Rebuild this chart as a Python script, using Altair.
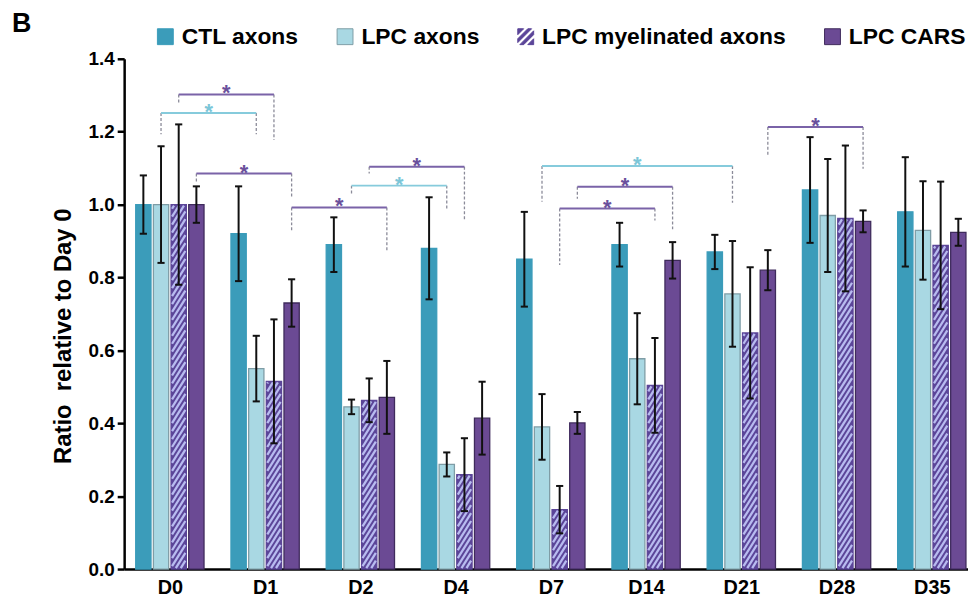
import altair as alt
import pandas as pd

# ---------------- data ----------------
days = ["D0", "D1", "D2", "D4", "D7", "D14", "D21", "D28", "D35"]
series = ["CTL axons", "LPC axons", "LPC myelinated axons", "LPC CARS"]

ctl_mean = [1.00, 0.92, 0.89, 0.88, 0.85, 0.89, 0.87, 1.04, 0.98]
ctl_err = [0.08, 0.13, 0.075, 0.14, 0.13, 0.06, 0.047, 0.145, 0.15]
lpc_mean = [1.00, 0.55, 0.445, 0.287, 0.39, 0.577, 0.755, 0.97, 0.929]
lpc_err = [0.16, 0.09, 0.02, 0.033, 0.09, 0.125, 0.145, 0.155, 0.135]
myel_mean = [1.00, 0.515, 0.463, 0.259, 0.163, 0.504, 0.648, 0.962, 0.888]
myel_err = [0.22, 0.17, 0.06, 0.10, 0.065, 0.13, 0.18, 0.20, 0.175]
cars_mean = [1.00, 0.73, 0.471, 0.414, 0.401, 0.847, 0.82, 0.954, 0.924]
cars_err = [0.05, 0.065, 0.10, 0.10, 0.03, 0.05, 0.055, 0.03, 0.037]

br_series = ["LPC myelinated axons", "LPC axons", "LPC CARS", "LPC CARS", "LPC axons",
             "LPC myelinated axons", "LPC axons", "LPC CARS", "LPC myelinated axons", "LPC CARS"]
br_from = ["D0", "D0", "D0", "D1", "D2", "D2", "D7", "D7", "D7", "D21"]
br_to = ["D1", "D1", "D1", "D2", "D4", "D4", "D21", "D14", "D14", "D28"]
br_level = [1.302, 1.251, 1.085, 0.992, 1.052, 1.104, 1.106, 1.049, 0.989, 1.213]
br_left_end = [1.278, 1.193, 1.060, 0.926, 1.030, 1.085, 1.008, 1.016, 0.834, 1.131]
br_right_end = [1.177, 1.193, 1.019, 0.872, 0.984, 0.959, 1.005, 0.932, 0.956, 1.098]
br_label = ["*"] * 10
panel_label = ["B"]

# ---------------- styles / layout ----------------
fill_colors = ["#3b9cba", "#a9d8e3", "#5b4598", "#6b4a94"]
stroke_colors = ["#3b9cba", "#7f9da6", "#5b4598", "#3f2b5c"]
stripe_color = "#b8bbf0"
br_colors = {"LPC axons": "#86cbdc", "LPC CARS": "#7a63a8", "LPC myelinated axons": "#7a63a8"}
star_colors = {"LPC axons": "#7cc6d8", "LPC CARS": "#6a509c", "LPC myelinated axons": "#6a509c"}
FONT = "Liberation Sans"

W, H = 850, 514
X_DOM = [-0.48, 8.38]
Y_DOM = [0.0, 1.4]
px_x = W / (X_DOM[1] - X_DOM[0])
px_y = H / (Y_DOM[1] - Y_DOM[0])
slot_px, bar_px, cap_px = 17.8, 15.4, 3.6
offsets = {s: (i - 1.5) * slot_px / px_x for i, s in enumerate(series)}
half = bar_px / 2 / px_x
cap = cap_px / px_x

means = dict(zip(series, [ctl_mean, lpc_mean, myel_mean, cars_mean]))
errs = dict(zip(series, [ctl_err, lpc_err, myel_err, cars_err]))

rows, caps = [], []
for s in series:
    for i, d in enumerate(days):
        xc = i + offsets[s]
        m, e = means[s][i], errs[s][i]
        rows.append(dict(series=s, day=d, xc=xc, x0=xc - half, x1=xc + half,
                         mean=m, lo=m - e, hi=m + e))
        caps.append(dict(xa=xc - cap, xb=xc + cap, y=m + e))
        caps.append(dict(xa=xc - cap, xb=xc + cap, y=m - e))
bars = pd.DataFrame(rows)
caps = pd.DataFrame(caps)

# diagonal hatching of the myelinated bars (decoration, clipped to each bar)
stripes = []
slope, period, ins = 1.6, 8.0, 1.0
for i, m in enumerate(myel_mean):
    left = i + offsets[series[2]] - half
    w, h = bar_px, m * px_y
    c = -slope * w + 2.0
    while c < h:
        xlo = max(ins, (ins - c) / slope)
        xhi = min(w - ins, (h - ins - c) / slope)
        if xhi - xlo > 0.3:
            stripes.append(dict(xa=left + xlo / px_x, xb=left + xhi / px_x,
                                ya=(slope * xlo + c) / px_y, yb=(slope * xhi + c) / px_y))
        c += period
stripes = pd.DataFrame(stripes)

brs, drops = [], []
for s, f, t, lv, le, re_, lab in zip(br_series, br_from, br_to, br_level, br_left_end, br_right_end, br_label):
    xa = days.index(f) + offsets[s]
    xb = days.index(t) + offsets[s]
    brs.append(dict(xa=xa, xb=xb, level=lv, mid=(xa + xb) / 2, col=br_colors[s],
                    scol=star_colors[s], label=lab))
    drops.append(dict(x=xa, ya=lv, yb=le))
    drops.append(dict(x=xb, ya=lv, yb=re_))
brs = pd.DataFrame(brs)
drops = pd.DataFrame(drops)


# legend swatch for the hatched series: square split into diagonal bands (stripes left open)
def clip(poly, f):
    out = []
    n = len(poly)
    for k in range(n):
        p, q = poly[k], poly[(k + 1) % n]
        fp, fq = f(p), f(q)
        if fp >= 0:
            out.append(p)
        if (fp >= 0) != (fq >= 0):
            tt = fp / (fp - fq)
            out.append((p[0] + tt * (q[0] - p[0]), p[1] + tt * (q[1] - p[1])))
    return out


square = [(-1, -1), (1, -1), (1, 1), (-1, 1)]
band_edges = [(-2.0, -1.26), (-0.74, -0.26), (0.26, 0.74), (1.26, 2.0)]
hatch_path = ""
for a, b in band_edges:
    poly = clip(clip(square, lambda p, a=a: p[0] + p[1] - a), lambda p, b=b: b - (p[0] + p[1]))
    if len(poly) >= 3:
        hatch_path += "M" + "L".join("%.3f,%.3f" % pt for pt in poly) + "Z"
shape_range = ["square", "square", hatch_path, "square"]

xscale = alt.Scale(domain=X_DOM, nice=False, zero=False)
yscale = alt.Scale(domain=Y_DOM, nice=False, zero=False)

label_expr = "[" + ",".join("'%s'" % d for d in days) + "][datum.value]"
xaxis = alt.Axis(values=list(range(len(days))), labelExpr=label_expr, ticks=False, grid=False,
                 domainColor="black", domainWidth=2.5, labelFont=FONT, labelFontSize=20,
                 labelFontWeight="bold", labelColor="black", labelPadding=9, title=None)
yaxis = alt.Axis(values=[0, 0.2, 0.4, 0.6, 0.8, 1.0, 1.2, 1.4], format=".1f", grid=False,
                 tickSize=7, tickWidth=2.5, tickColor="black", domainColor="black", domainWidth=2.5,
                 labelFont=FONT, labelFontSize=19, labelFontWeight="bold", labelColor="black",
                 labelPadding=3, title="Ratio\u00a0 relative to Day 0", titleFont=FONT,
                 titleFontSize=24, titleFontWeight="bold", titleColor="black", titleAngle=270,
                 titleX=-61, titleY=279, titleAlign="center", titleBaseline="middle")

legend = alt.Legend(orient="none", legendX=30, legendY=-34, direction="horizontal", columns=4,
                    title=None, symbolSize=256, symbolStrokeWidth=1.0, symbolOpacity=1,
                    labelFont=FONT, labelFontSize=23, labelFontWeight="bold", labelColor="black",
                    labelOffset=5, labelLimit=400, columnPadding=35, padding=0)

bar_layer = alt.Chart(bars).mark_bar(strokeWidth=1.3).encode(
    x=alt.X("x0:Q", scale=xscale, axis=xaxis),
    x2="x1:Q",
    y=alt.Y("mean:Q", scale=yscale, axis=yaxis),
    y2=alt.datum(0),
    fill=alt.Fill("series:N", scale=alt.Scale(domain=series, range=fill_colors), legend=legend),
    stroke=alt.Stroke("series:N", scale=alt.Scale(domain=series, range=stroke_colors), legend=None),
)
# hidden layer that only contributes the legend symbol shapes
shape_layer = alt.Chart(bars).transform_filter("false").mark_point(filled=True, opacity=1).encode(
    x=alt.X("xc:Q", scale=xscale), y=alt.Y("mean:Q", scale=yscale),
    shape=alt.Shape("series:N", scale=alt.Scale(domain=series, range=shape_range), legend=legend),
)
stripe_layer = alt.Chart(stripes).mark_rule(color=stripe_color, strokeWidth=2.3, strokeCap="butt").encode(
    x=alt.X("xa:Q", scale=xscale), x2="xb:Q", y=alt.Y("ya:Q", scale=yscale), y2="yb:Q")
err_layer = alt.Chart(bars).mark_rule(color="#111111", strokeWidth=2).encode(
    x=alt.X("xc:Q", scale=xscale), y=alt.Y("lo:Q", scale=yscale), y2="hi:Q")
cap_layer = alt.Chart(caps).mark_rule(color="#111111", strokeWidth=2).encode(
    x=alt.X("xa:Q", scale=xscale), x2="xb:Q", y=alt.Y("y:Q", scale=yscale))
drop_layer = alt.Chart(drops).mark_rule(color="#8b8b99", strokeWidth=1.3, strokeDash=[3, 2]).encode(
    x=alt.X("x:Q", scale=xscale), y=alt.Y("ya:Q", scale=yscale), y2="yb:Q")
br_layer = alt.Chart(brs).mark_rule(strokeWidth=2).encode(
    x=alt.X("xa:Q", scale=xscale), x2="xb:Q", y=alt.Y("level:Q", scale=yscale),
    color=alt.Color("col:N", scale=None))
star_layer = alt.Chart(brs).mark_text(font=FONT, fontSize=22, fontWeight="bold", dy=6,
                                      baseline="alphabetic").encode(
    x=alt.X("mid:Q", scale=xscale), y=alt.Y("level:Q", scale=yscale),
    text="label:N", color=alt.Color("scol:N", scale=None))
b_layer = alt.Chart(pd.DataFrame({"t": panel_label})).mark_text(
    font=FONT, fontSize=27, fontWeight="bold", align="left", baseline="top", color="black").encode(
    x=alt.value(-113), y=alt.value(-48), text="t:N")

chart = alt.layer(bar_layer, shape_layer, stripe_layer, drop_layer, br_layer, star_layer,
                  err_layer, cap_layer, b_layer).properties(
    width=W, height=H, autosize=alt.AutoSizeParams(type="none"),
    padding={"left": 117, "top": 49, "right": 0, "bottom": 28},
).configure_view(stroke=None)

chart.save("out.html", embed_options={"renderer": "svg", "actions": False})
